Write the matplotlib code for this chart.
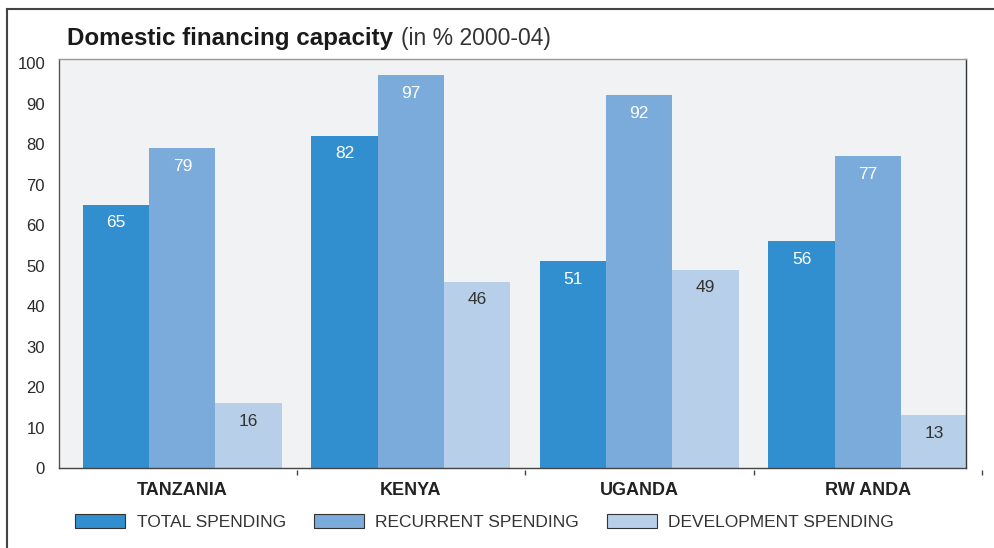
import matplotlib
matplotlib.use("Agg")
import matplotlib.pyplot as plt
import numpy as np
from matplotlib.lines import Line2D
from matplotlib.patches import Patch

plt.rcParams["font.family"] = ["Liberation Sans", "DejaVu Sans"]

countries = ["TANZANIA", "KENYA", "UGANDA", "RW ANDA"]
series_names = ["TOTAL SPENDING", "RECURRENT SPENDING", "DEVELOPMENT SPENDING"]
total = [65, 82, 51, 56]
recurrent = [79, 97, 92, 77]
development = [16, 46, 49, 13]
y_ticks = [0, 10, 20, 30, 40, 50, 60, 70, 80, 90, 100]

colors = ["#318fcf", "#7aabdb", "#b8cfe9"]
label_colors = ["white", "white", "#333333"]

fig = plt.figure(figsize=(9.94, 5.48), dpi=100)
ax = fig.add_axes([59 / 994, 80 / 548, 907 / 994, 409 / 548])
ax.set_facecolor("#f1f2f4")

x = np.arange(len(countries))
width = 0.29
for i, (vals, col, lc) in enumerate(zip([total, recurrent, development], colors, label_colors)):
    xs = x + (i - 1) * width
    ax.bar(xs, vals, width=width, color=col, edgecolor="none", label=series_names[i], zorder=2)
    for xx, v in zip(xs, vals):
        ax.annotate(str(v), (xx, v), xytext=(0, -13), textcoords="offset points",
                    ha="center", va="center", color=lc, fontsize=12.5, zorder=3)

ax.set_xlim(-0.54, 3.43)
ax.set_ylim(0, 101)
ax.set_yticks(y_ticks)
ax.tick_params(axis="y", length=0, pad=10, labelsize=12, labelcolor="#2a2a2a")
ax.set_xticks(x)
ax.set_xticklabels(countries, fontweight="bold", fontsize=13, color="#222222")
ax.tick_params(axis="x", length=0, pad=10)

for side, col in [("left", "#555555"), ("bottom", "#444444"), ("top", "#999999"), ("right", "#333333")]:
    ax.spines[side].set_color(col)
    ax.spines[side].set_linewidth(1.0)

# group separator ticks (the last one sits past the plot edge)
seps = x + 0.5
ax.vlines(seps, -0.004, -0.018, transform=ax.get_xaxis_transform(),
          colors="#444444", linewidth=1.0, clip_on=False)

# outer frame
fig.add_artist(Line2D([7 / 994, 1.0], [1 - 9 / 548, 1 - 9 / 548], color="#444444", lw=1.5))
fig.add_artist(Line2D([7 / 994, 7 / 994], [0, 1 - 9 / 548], color="#444444", lw=1.5))

# title, bold part followed by normal part
t1 = fig.text(67 / 994, 1 - 45 / 548, "Domestic financing capacity", fontsize=17.4,
              fontweight="bold", color="#1a1a1a", va="baseline", ha="left")
fig.canvas.draw()
bb = t1.get_window_extent(renderer=fig.canvas.get_renderer())
fig.text(bb.x1 / fig.bbox.width + 8 / 994, 1 - 45 / 548, "(in % 2000-04)", fontsize=16.5,
         color="#333333", va="baseline", ha="left")

handles = [Patch(facecolor=c, edgecolor="#333333", linewidth=0.8) for c in colors]
leg = fig.legend(handles, series_names, loc="center left", bbox_to_anchor=(75 / 994, 26 / 548),
                 ncol=3, frameon=False, fontsize=12.5, handlelength=2.9, handleheight=0.85,
                 handletextpad=0.65, columnspacing=1.6, borderaxespad=0, borderpad=0)
for t in leg.get_texts():
    t.set_color("#333333")

fig.savefig("out.png", dpi=100)
